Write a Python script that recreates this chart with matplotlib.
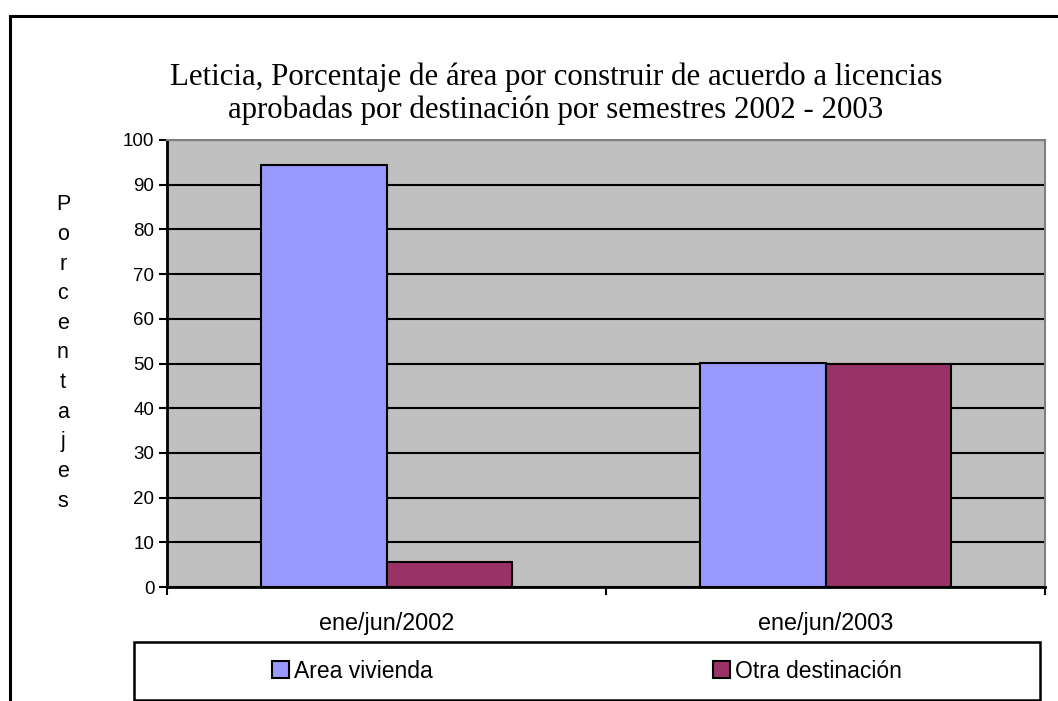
import numpy as np
import matplotlib.pyplot as plt
from matplotlib.lines import Line2D
from matplotlib.patches import Rectangle, Patch

# Data
categories = ['ene/jun/2002', 'ene/jun/2003']
area_vivienda = [94.3, 50.2]
otra_destinacion = [5.7, 49.8]
series_names = ['Area vivienda', 'Otra destinación']
yticks = list(range(0, 101, 10))

W, H = 1058, 701
fig = plt.figure(figsize=(W / 100, H / 100), dpi=100)

def fx(px):
    return px / W

def fy(py):
    return 1 - py / H

# Plot area
ax = fig.add_axes([fx(167), fy(587), fx(1045) - fx(167), fy(140) - fy(587)])
ax.set_facecolor('#C0C0C0')

x = np.arange(len(categories))
bw = 0.287
ax.bar(x - bw / 2, area_vivienda, bw, color='#9999FF', edgecolor='black', linewidth=1.5, zorder=3)
ax.bar(x + bw / 2, otra_destinacion, bw, color='#993366', edgecolor='black', linewidth=1.5, zorder=3)

ax.set_xlim(-0.5, len(categories) - 0.5)
ax.set_ylim(0, 100)
ax.set_yticks(yticks)
ax.set_yticklabels([str(v) for v in yticks], fontsize=13.5, family='Liberation Sans')
ax.set_xticks(x)
ax.set_xticklabels(categories, fontsize=16.8, family='Liberation Sans')
ax.tick_params(axis='x', length=0, pad=18)
ax.set_xticks(np.arange(-0.5, len(categories)), minor=True)
ax.tick_params(axis='x', which='minor', length=6, width=1.5, direction='out')
ax.tick_params(axis='y', length=6, width=1.5, direction='out', pad=3)

ax.grid(axis='y', color='black', linewidth=1.5, zorder=1)
ax.set_axisbelow(True)
for side in ['top', 'right']:
    ax.spines[side].set_color('#808080')
    ax.spines[side].set_linewidth(1.5)
for side in ['left', 'bottom']:
    ax.spines[side].set_color('black')
    ax.spines[side].set_linewidth(2)

# Title
fig.text(fx(556), fy(94),
         'Leticia, Porcentaje de área por construir de acuerdo a licencias\n'
         'aprobadas por destinación por semestres 2002 - 2003',
         ha='center', va='center', fontsize=22.2, family='Liberation Serif', linespacing=1.15)

# Vertical stacked y label
fig.text(fx(63), fy(353), '\n'.join('Porcentajes'), ha='center', va='center',
         fontsize=15.5, family='Liberation Sans', linespacing=1.54)

# Outer border (only top and left visible)
fig.add_artist(Line2D([fx(10), fx(10)], [fy(16), 0], color='black', linewidth=2.2))
fig.add_artist(Line2D([fx(10), 1], [fy(16), fy(16)], color='black', linewidth=2.2))

# Legend box
fig.add_artist(Rectangle((fx(134), fy(700)), fx(1040) - fx(134), fy(642) - fy(700),
                         facecolor='white', edgecolor='black', linewidth=1.8,
                         transform=fig.transFigure))
handles = [Patch(facecolor='#9999FF', edgecolor='black', linewidth=1.5),
           Patch(facecolor='#993366', edgecolor='black', linewidth=1.5)]
fig.legend(handles, series_names, loc='center', bbox_to_anchor=(fx(587), fy(671)),
           ncol=2, frameon=False, prop={'family': 'Liberation Sans', 'size': 16.5},
           handlelength=0.75, handleheight=0.75, handletextpad=0.22, columnspacing=12.2)

fig.savefig('out.png', dpi=100)
